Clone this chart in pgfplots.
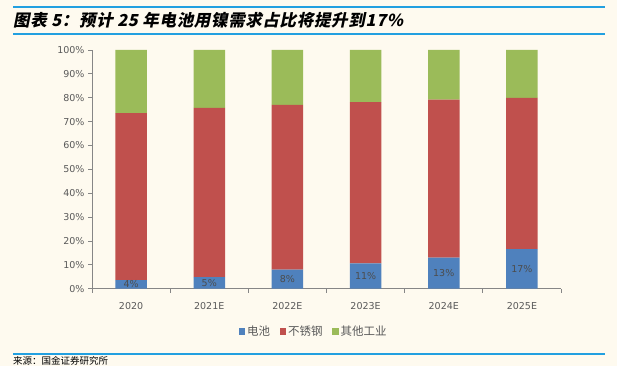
\documentclass[border=0pt]{standalone}
\usepackage{pgfplots}
\pgfplotsset{compat=1.18}
\usepackage{pgfplotstable}
\usepackage{fontspec}
\setmainfont{DejaVu Sans}
\newfontfamily\cjk{Noto Sans CJK SC}
\newfontfamily\cjkit[FakeSlant=0.2,BoldFeatures={FakeSlant=0.2,LetterSpace=4}]{Noto Sans CJK SC}
\definecolor{bgc}{HTML}{FEFAEF}
\definecolor{cbat}{HTML}{4F81BD}
\definecolor{css}{HTML}{C0504D}
\definecolor{coth}{HTML}{9BBB59}
\definecolor{axgray}{HTML}{868686}
\definecolor{labgray}{HTML}{595959}
\definecolor{lineblue}{HTML}{22A0E0}
\pgfplotstableread{
x bat ss oth lab
0 3.6 70.0 26.4 4
1 4.9 70.9 24.2 5
2 8.0 69.0 23.0 8
3 10.6 67.6 21.8 11
4 13.0 66.2 20.8 13
5 16.6 63.3 20.1 17
}\data
\begin{document}
\begin{tikzpicture}[x=1pt,y=1pt]
\useasboundingbox (0,0) rectangle (617,366);
\fill[bgc] (0,0) rectangle (617,366);
\draw[lineblue, line width=1.5pt] (13,359) -- (605,359);
\draw[lineblue, line width=1.5pt] (13,332) -- (605,332);
\draw[lineblue, line width=1.5pt] (13,12) -- (605,12);
\node[anchor=west, inner sep=0pt] at (13,346) {\cjkit\bfseries\fontsize{16.5}{18}\selectfont 图表 5：预计 25 年电池用镍需求占比将提升到17\%};
\node[anchor=north west, inner sep=0pt] at (13,10) {\cjk\fontsize{9.5}{11}\selectfont 来源：国金证券研究所};
\begin{axis}[
  at={(92pt,77.3pt)}, anchor=south west,
  scale only axis, width=469pt, height=238.7pt,
  ybar stacked, bar width=31.5pt,
  xmin=-0.5, xmax=5.5, ymin=0, ymax=100,
  axis lines*=left,
  axis line style={draw=axgray, line width=0.8pt},
  every tick/.style={draw=axgray, line width=0.8pt},
  tick align=outside,
  xtick={0,...,5},
  xticklabels={2020,2021E,2022E,2023E,2024E,2025E},
  major x tick style={draw=none},
  minor xtick={-0.5,0.5,1.5,2.5,3.5,4.5,5.5},
  minor tick length=4pt,
  major tick length=4pt,
  ytick={0,10,...,100},
  yticklabel={\pgfmathprintnumber{\tick}\%},
  x tick label style={font=\fontsize{9.5}{11}\selectfont, text=labgray, yshift=-6pt},
  y tick label style={font=\fontsize{9.5}{11}\selectfont, text=labgray},
  /pgf/number format/assume math mode=true,
  legend style={at={(0.4725,-0.18)}, anchor=center, draw=none, fill=none,
    legend columns=-1, font=\cjk\fontsize{11.5}{13}\selectfont, text=labgray,
    /tikz/every even column/.append style={column sep=7.5pt}},
  legend image code/.code={\fill[#1] (0pt,-3.2pt) rectangle (6.5pt,3.2pt);},
]
\addplot[fill=cbat, draw=none] table[x=x,y=bat] {\data};
\addlegendentry{电池}
\addplot[fill=css, draw=none] table[x=x,y=ss] {\data};
\addlegendentry{不锈钢}
\addplot[fill=coth, draw=none] table[x=x,y=oth] {\data};
\addlegendentry{其他工业}
\end{axis}
\begin{axis}[
  at={(92pt,77.3pt)}, anchor=south west,
  scale only axis, width=469pt, height=238.7pt,
  xmin=-0.5, xmax=5.5, ymin=0, ymax=100, hide axis,
]
\addplot[draw=none, mark=none, only marks, point meta=explicit symbolic,
  nodes near coords={\pgfplotspointmeta\%},
  nodes near coords style={anchor=center, inner sep=0pt, font=\fontsize{9.5}{11}\selectfont, text=black!70}]
  table[x=x, y expr=\thisrow{bat}/2, meta=lab] {\data};
\end{axis}
\end{tikzpicture}
\end{document}
